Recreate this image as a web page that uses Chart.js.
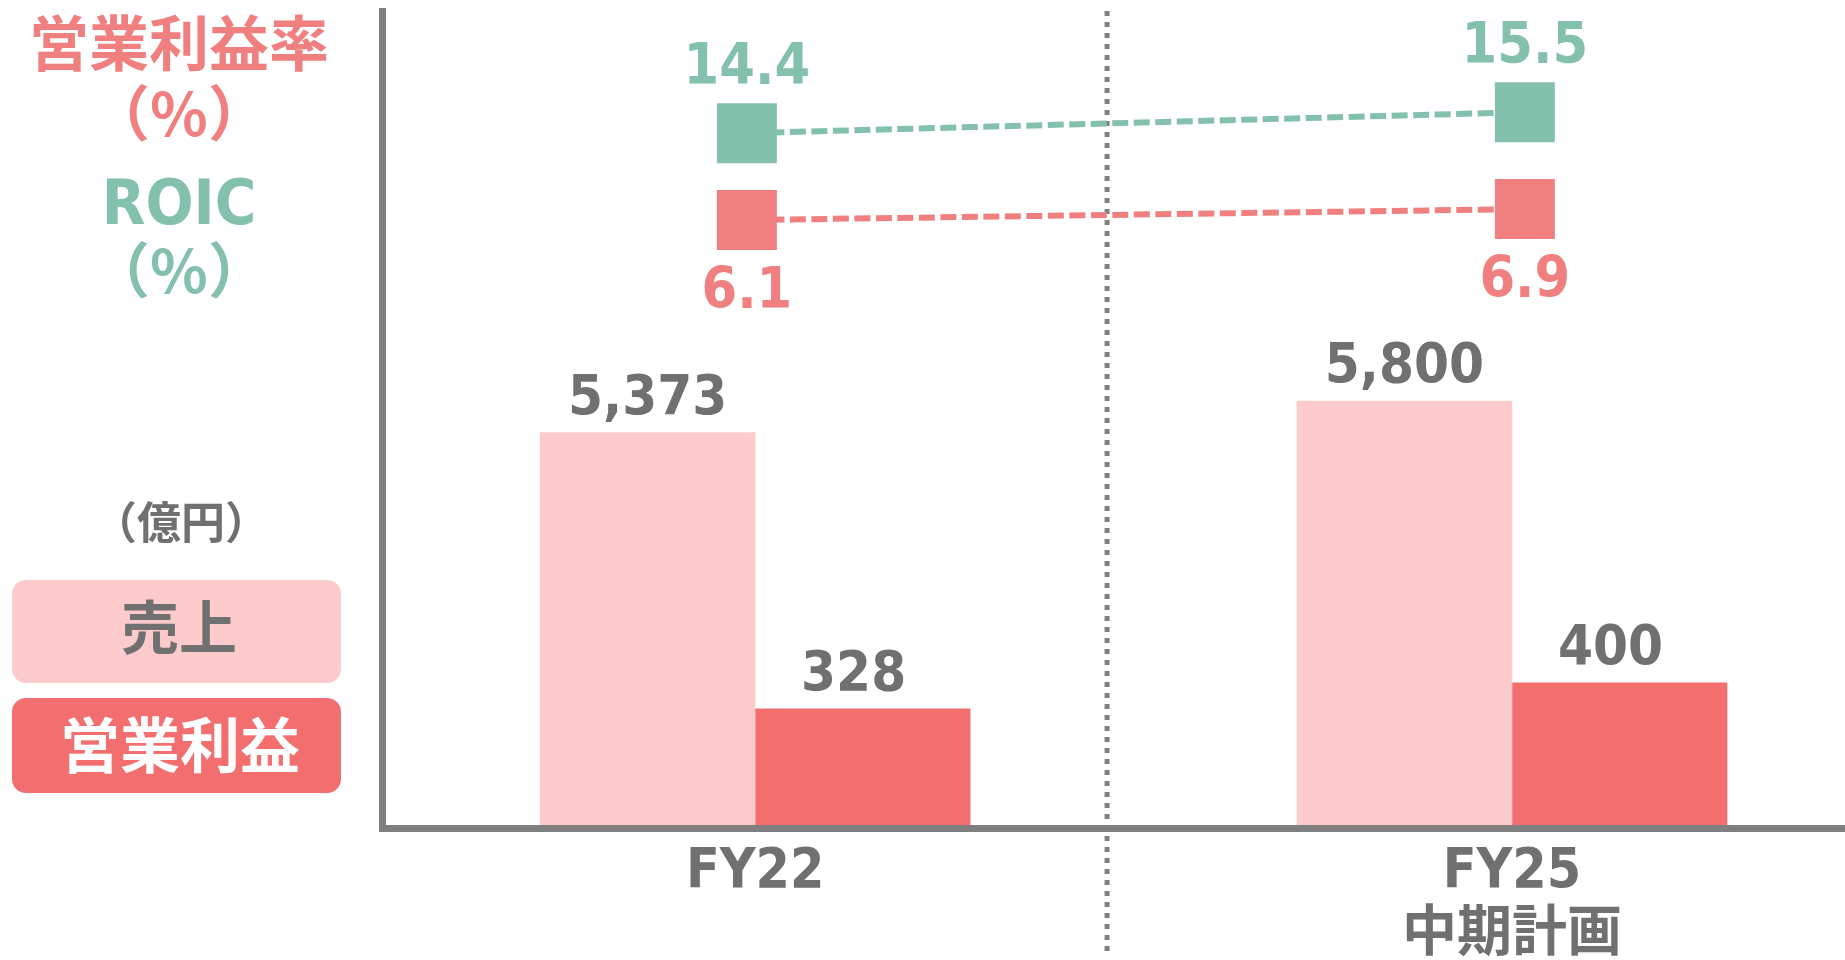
<!DOCTYPE html>
<html>
<head>
<meta charset="utf-8">
<script src="https://cdn.jsdelivr.net/npm/chart.js@4.4.0/dist/chart.umd.min.js"></script>
<style>
  html, body { margin: 0; padding: 0; background: #fff; overflow: hidden; }
  #wrap { width: 1845px; height: 960px; position: relative; }
</style>
</head>
<body>
<div id="wrap"><canvas id="chart-area"></canvas></div>
<script>
var categories = ['FY22', ['FY25', '中期計画']];
var sales = [5373, 5800];
var opProfit = [328, 400];
var opMargin = [6.1, 6.9];
var roic = [14.4, 15.5];

var GREEN = '#83c1ad';
var CORAL = '#f08080';
var RED = '#f36e6e';
var PINK = '#fdcbcc';
var GRAY = '#707070';
var AXIS = '#808080';

var NUM_FONT = "'DejaVu Sans Condensed', 'DejaVu Sans', 'Noto Sans CJK JP', sans-serif";
var JP_FONT = "'Noto Sans CJK JP', sans-serif";

// dotted divider sits a bit left of the midpoint between the two years
var dividerAt = 0.465;

function points(values) {
    return values.map(function (v, i) { return { x: i, y: v }; });
}

var valueLabels = {
    id: 'valueLabels',
    afterDatasetsDraw: function (chart) {
        var ctx = chart.ctx;
        ctx.save();
        ctx.textAlign = 'center';
        ctx.textBaseline = 'alphabetic';
        chart.data.datasets.forEach(function (ds, di) {
            var meta = chart.getDatasetMeta(di);
            meta.data.forEach(function (el, i) {
                var v = ds.data[i].y;
                if (ds.type === 'line') {
                    ctx.font = 'bold 57px ' + NUM_FONT;
                    ctx.fillStyle = ds.borderColor;
                    ctx.fillText(v.toFixed(1), el.x, ds.labelAbove ? el.y - 49 : el.y + 88);
                } else {
                    ctx.font = 'bold 56px ' + NUM_FONT;
                    ctx.fillStyle = GRAY;
                    ctx.fillText(v.toLocaleString('en-US'), el.x + (ds.labelDx || 0), el.y - 19);
                }
            });
        });
        ctx.restore();
    }
};

var divider = {
    id: 'divider',
    beforeDatasetsDraw: function (chart) {
        var ctx = chart.ctx;
        var x = chart.scales.x.getPixelForValue(dividerAt);
        ctx.save();
        ctx.strokeStyle = AXIS;
        ctx.lineWidth = 5;
        ctx.setLineDash([5, 6]);
        ctx.beginPath();
        ctx.moveTo(x, chart.chartArea.top);
        ctx.lineTo(x, 952);
        ctx.stroke();
        ctx.restore();
    }
};

var sidePanel = {
    id: 'sidePanel',
    afterDraw: function (chart) {
        var ctx = chart.ctx;
        var ds = chart.data.datasets;
        ctx.save();
        ctx.textAlign = 'center';
        ctx.textBaseline = 'middle';

        ctx.fillStyle = CORAL;
        ctx.font = 'bold 60px ' + JP_FONT;
        ctx.fillText(ds[1].label, 179, 43);
        ctx.fillText('（%）', 179, 113);

        ctx.fillStyle = GREEN;
        ctx.font = 'bold 63px ' + NUM_FONT;
        ctx.textBaseline = 'alphabetic';
        ctx.fillText(ds[0].label, 179, 224);
        ctx.textBaseline = 'middle';
        ctx.font = 'bold 60px ' + JP_FONT;
        ctx.fillText('（%）', 179, 270);

        ctx.fillStyle = GRAY;
        ctx.font = 'bold 44px ' + JP_FONT;
        ctx.fillText('（億円）', 181, 522);

        ctx.fillStyle = PINK;
        ctx.beginPath();
        ctx.roundRect(12, 580, 329, 103, 14);
        ctx.fill();
        ctx.fillStyle = RED;
        ctx.beginPath();
        ctx.roundRect(12, 698, 329, 95, 14);
        ctx.fill();

        ctx.fillStyle = GRAY;
        ctx.font = 'bold 58px ' + JP_FONT;
        ctx.fillText(ds[2].label, 179, 627);
        ctx.fillStyle = '#ffffff';
        ctx.font = 'bold 60px ' + JP_FONT;
        ctx.fillText(ds[3].label, 180, 745);
        ctx.restore();
    }
};

function lineSet(label, values, axis, color, above) {
    return {
        type: 'line',
        label: label,
        data: points(values),
        xAxisID: 'xLine',
        yAxisID: axis,
        borderColor: color,
        borderWidth: 6,
        borderDash: [16, 5.5],
        fill: false,
        tension: 0,
        pointStyle: 'rect',
        pointRadius: 42.4,
        pointHoverRadius: 42.4,
        pointBackgroundColor: color,
        pointBorderWidth: 0,
        labelAbove: above
    };
}

var config = {
    type: 'bar',
    data: {
        datasets: [
            lineSet('ROIC', roic, 'yRoic', GREEN, true),
            lineSet('営業利益率', opMargin, 'yMargin', CORAL, false),
            {
                label: '売上',
                data: points(sales),
                xAxisID: 'x',
                yAxisID: 'ySales',
                backgroundColor: PINK,
                borderWidth: 0,
                barThickness: 215
            },
            {
                label: '営業利益',
                data: points(opProfit),
                xAxisID: 'x',
                yAxisID: 'yOp',
                backgroundColor: RED,
                borderWidth: 0,
                barThickness: 215,
                labelDx: -9
            }
        ]
    },
    options: {
        responsive: true,
        maintainAspectRatio: false,
        animation: false,
        events: [],
        layout: { autoPadding: false, padding: { left: 382, top: 11, right: 0, bottom: 0 } },
        plugins: {
            legend: { display: false },
            tooltip: { enabled: false }
        },
        scales: {
            x: {
                type: 'linear',
                min: -0.493,
                max: 1.44,
                offset: false,
                grid: { display: false, drawTicks: false },
                border: { display: true, color: AXIS, width: 7, z: 1 },
                afterBuildTicks: function (scale) {
                    scale.ticks = categories.map(function (c, i) { return { value: i }; });
                },
                afterFit: function (scale) { scale.height = 132; },
                ticks: {
                    color: GRAY,
                    padding: 14,
                    maxRotation: 0,
                    autoSkip: false,
                    font: { family: NUM_FONT, size: 55, weight: 'bold', lineHeight: 1.13 },
                    callback: function (v) { return categories[v]; }
                }
            },
            xLine: { type: 'linear', display: false, offset: false, min: -0.469, max: 1.4115 },
            ySales: {
                type: 'linear',
                position: 'left',
                min: 0,
                max: 11100,
                grid: { display: false, drawTicks: false },
                ticks: { display: false },
                border: { display: true, color: AXIS, width: 7, z: 1 }
            },
            yOp: { type: 'linear', display: false, min: 0, max: 2250 },
            yRoic: { type: 'linear', display: false, min: -22, max: 20.8 },
            yMargin: { type: 'linear', display: false, min: -38.1, max: 21.3 }
        }
    },
    plugins: [divider, valueLabels, sidePanel]
};

window.onload = function () {
    var ctx = document.getElementById('chart-area').getContext('2d');
    window.myChart = new Chart(ctx, config);
};
</script>
</body>
</html>
